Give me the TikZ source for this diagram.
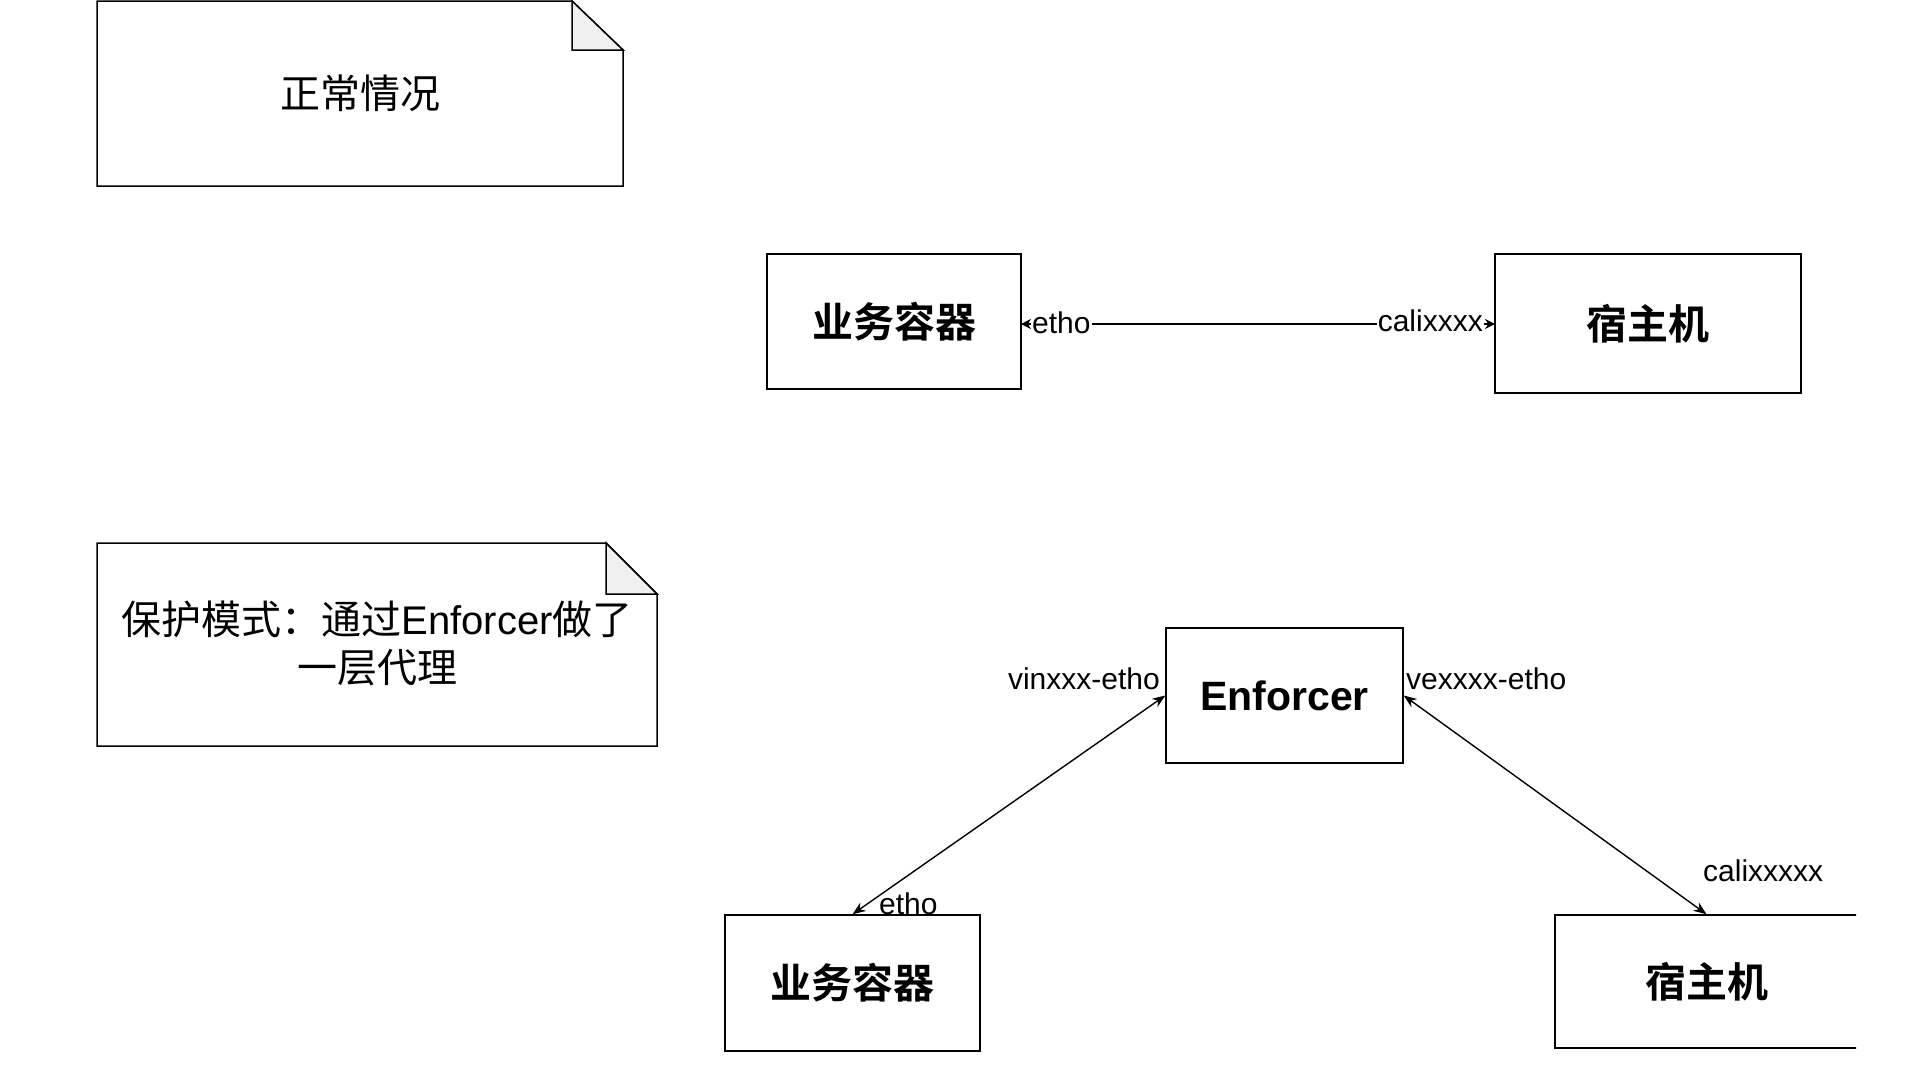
\documentclass[tikz,border=0pt]{standalone}
\usepackage{fontspec}
\setmainfont{Liberation Sans}
\newfontfamily\cjk{Noto Sans CJK SC}[BoldFont={Noto Sans CJK SC Bold}]
\usetikzlibrary{arrows.meta}
\tikzset{
  boxnode/.style={draw, line width=1.5pt, inner sep=0pt, font=\fontsize{41}{48}\selectfont\bfseries},
  lbl/.style={inner sep=0pt, font=\fontsize{30}{36}\selectfont},
  conn/.style={line width=1.4pt, {Stealth[length=13pt,width=10pt]}-{Stealth[length=13pt,width=10pt]}},
  conntop/.style={line width=1.4pt, {Stealth[length=10pt,width=10pt]}-{Stealth[length=10pt,width=10pt]}},
  notebody/.style={draw, line width=1.5pt, fill=white, line join=miter},
  notefold/.style={draw, line width=1.5pt, fill=black!6},
  notetext/.style={align=center, font=\fontsize{40}{48}\selectfont}
}
\begin{document}
\begin{tikzpicture}[x=1pt,y=-1pt]
\useasboundingbox[fill=white] (0,0) rectangle (1908,1090);

% note 1
\draw[notebody] (97,1) -- (572,1) -- (623,50) -- (623,186) -- (97,186) -- cycle;
\draw[notefold] (572,1) -- (572,50) -- (623,50) -- cycle;
\node[notetext] (n1) at (360,93) {\cjk 正常情况};

% note 2
\draw[notebody] (97,543) -- (606,543) -- (657,594) -- (657,746) -- (97,746) -- cycle;
\draw[notefold] (606,543) -- (606,594) -- (657,594) -- cycle;
\node[notetext] (n2) at (377,643) {{\cjk 保护模式：通过}Enforcer{\cjk 做了}\\{\cjk 一层代理}};

% top row
\node[boxnode, minimum width=254pt, minimum height=135pt] (b1) at (894,321.5) {\cjk 业务容器};
\node[boxnode, minimum width=306pt, minimum height=139pt] (h1) at (1648,323.5) {\cjk 宿主机};
\coordinate (t1) at (1021,324);
\coordinate (t2) at (1495,324);
\draw[conntop] (t1) -- (t2);
\node[lbl, fill=white, anchor=west, inner xsep=1pt] (le1) at (1031,323) {etho};
\node[lbl, fill=white, anchor=east, inner xsep=1pt] (lc1) at (1484,321) {calixxxx};

% bottom row
\node[boxnode, minimum width=237pt, minimum height=135pt] (enf) at (1284.5,695.5) {Enforcer};
\node[boxnode, minimum width=255pt, minimum height=136pt] (b2) at (852.5,983) {\cjk 业务容器};
\begin{scope}
  \clip (1500,880) rectangle (1856,1080);
  \node[boxnode, minimum width=303pt, minimum height=133pt] (h2) at (1706.5,981.5) {\cjk 宿主机};
\end{scope}
\draw[conn] (b2.north) -- (enf.west);
\draw[conn] (enf.east) -- (h2.north);

\node[lbl, anchor=east] (lv1) at (1160,679) {vinxxx-etho};
\node[lbl, anchor=west] (lv2) at (1406,679) {vexxxx-etho};
\node[lbl, anchor=west] (le2) at (879,904) {etho};
\node[lbl, anchor=west] (lc2) at (1703,871) {calixxxxx};
\end{tikzpicture}
\end{document}
